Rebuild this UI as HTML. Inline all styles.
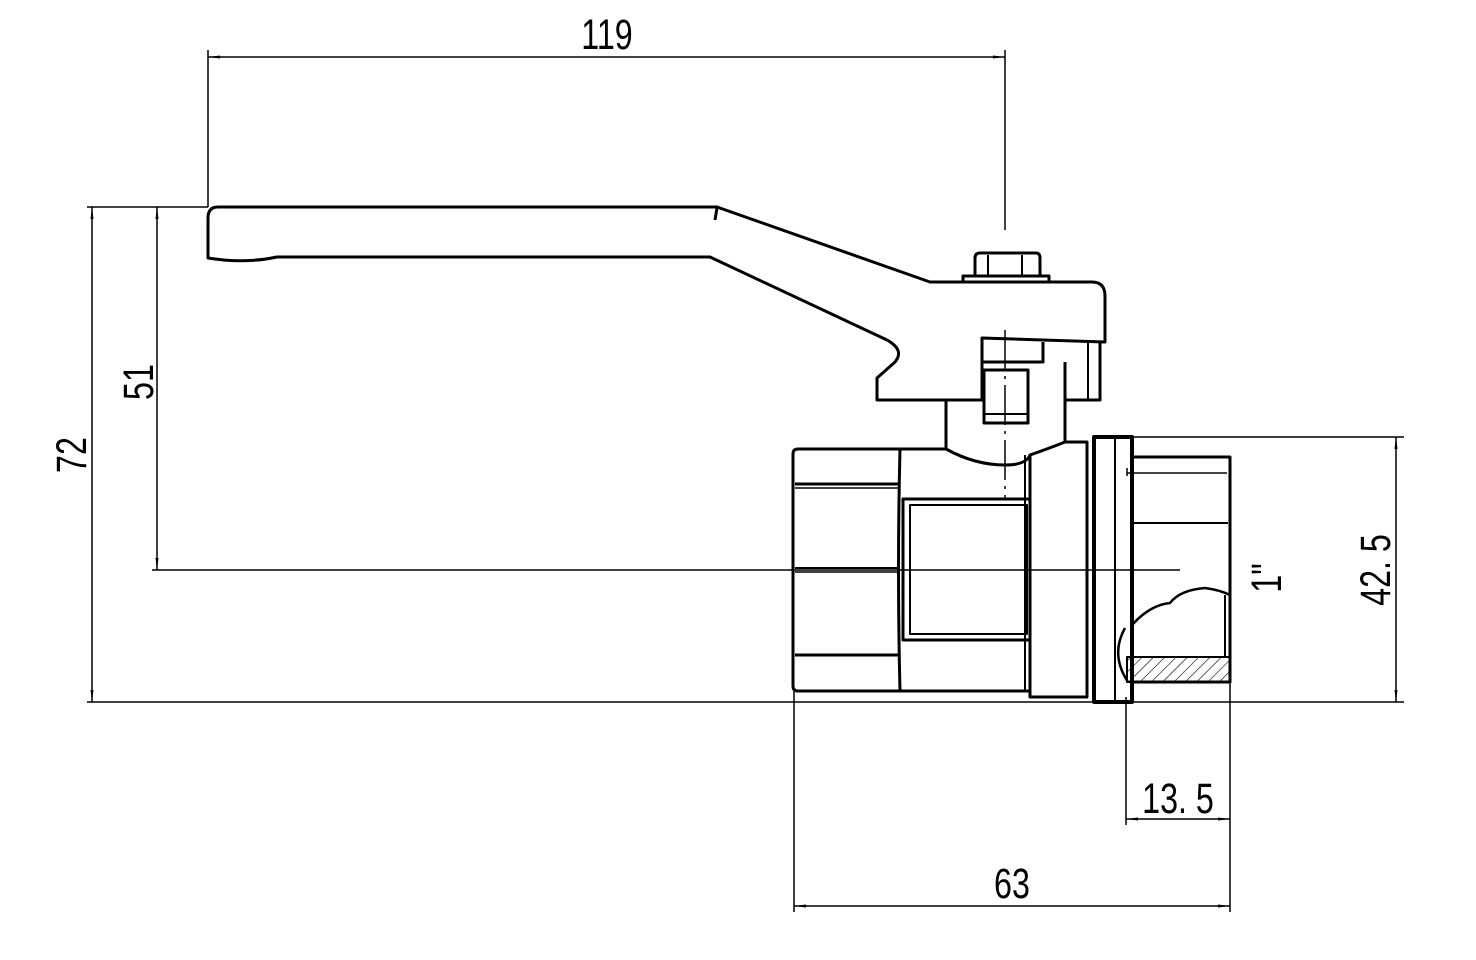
<!DOCTYPE html>
<html><head><style>html,body{margin:0;padding:0;background:#fff}svg{display:block}</style></head><body>
<svg width="1476" height="960" viewBox="0 0 1476 960" xmlns="http://www.w3.org/2000/svg">
<defs>
<pattern id="h" width="8" height="8" patternUnits="userSpaceOnUse" patternTransform="rotate(45)"><line x1="0" y1="0" x2="0" y2="8" stroke="#000" stroke-width="1.2"/></pattern>
<marker id="a" markerWidth="12" markerHeight="6" refX="12" refY="3" orient="auto-start-reverse" markerUnits="userSpaceOnUse"><path d="M0,1.5 L12,3 L0,4.5z" fill="#000"/></marker>
</defs>
<g fill="none" stroke="#000" stroke-width="1.5">
<line x1="208" y1="50" x2="208" y2="207"/>
<line x1="1005" y1="50" x2="1005" y2="230"/>
<line x1="208" y1="57" x2="1005" y2="57" marker-start="url(#a)" marker-end="url(#a)"/>
<line x1="87" y1="207" x2="208" y2="207"/>
<line x1="87" y1="702" x2="1404" y2="702"/>
<line x1="152" y1="570" x2="1180" y2="570"/>
<line x1="92" y1="207" x2="92" y2="702" marker-start="url(#a)" marker-end="url(#a)"/>
<line x1="157" y1="207" x2="157" y2="570" marker-start="url(#a)" marker-end="url(#a)"/>
<line x1="1132" y1="437" x2="1404" y2="437"/>
<line x1="1396" y1="437" x2="1396" y2="702" marker-start="url(#a)" marker-end="url(#a)"/>
<line x1="1126" y1="697" x2="1126" y2="825"/>
<line x1="1230" y1="628" x2="1230" y2="912"/>
<line x1="1126" y1="819" x2="1230" y2="819" marker-start="url(#a)" marker-end="url(#a)"/>
<line x1="794" y1="691" x2="794" y2="912"/>
<line x1="794" y1="906" x2="1230" y2="906" marker-start="url(#a)" marker-end="url(#a)"/>
<line x1="1005" y1="330" x2="1005" y2="498" stroke-dasharray="40 6 3 6"/>
</g>
<g fill="none" stroke="#000" stroke-width="3" stroke-linejoin="round">
<path d="M717,207 L218,207 Q208,207 208,218 L208,258 Q245,264 277,257 L710,257 L887,340 Q905,350 895,362 L877,378 L877,400 L982,400 L982,338 L1105,342 L1105,296 Q1105,282 1092,282 L930,282 Z"/>
<path d="M717,208 L715,220"/>
<path d="M963,282 L963,276 L1049,276 L1049,282"/>
<path d="M975,276 L975,258 Q975,253 980,253 L1036,253 Q1040,253 1040,258 L1040,276"/>
<line x1="988" y1="255" x2="988" y2="275" stroke-width="2"/>
<line x1="1022" y1="255" x2="1022" y2="275" stroke-width="2"/>
<path d="M1043,342 L1043,362 L982,362"/>
<path d="M1065,362 L1065,400 L1100,400 L1100,342"/>
<line x1="1088" y1="343" x2="1088" y2="400" stroke-width="2"/>
<rect x="984" y="370" width="44" height="53"/>
<line x1="984" y1="414" x2="1028" y2="414" stroke-width="2"/>
<path d="M946,400 L946,449"/>
<path d="M1065,400 L1065,442"/>
<path d="M946,449 Q975,465 1005,465 Q1026,465 1030,455 Q1050,448 1065,442 L1087,442 L1087,697 L1030,697 L1030,691 L798,691 Q793,691 793,686 L793,454 Q793,449 798,449 Z"/>
<line x1="1030" y1="455" x2="1030" y2="691"/>
<path d="M900,449 Q897,570 900,691"/>
<line x1="795" y1="484" x2="900" y2="484"/>
<line x1="795" y1="488" x2="900" y2="488" stroke-width="1.5"/>
<line x1="795" y1="568" x2="900" y2="568" stroke-width="2"/>
<line x1="795" y1="572" x2="900" y2="572" stroke-width="1.5"/>
<line x1="795" y1="655" x2="900" y2="655"/>
<rect x="903" y="499" width="127" height="141"/>
<rect x="910" y="505" width="117" height="129" stroke-width="2"/>
<line x1="1025" y1="455" x2="1025" y2="691" stroke-width="2"/>
<rect x="1094" y="437" width="38" height="265" stroke-width="4"/>
<line x1="1115" y1="437" x2="1115" y2="702" stroke-width="2"/>
<path d="M1132,457 L1230,457 L1230,682 L1132,682" />
<line x1="1127" y1="473" x2="1227" y2="473" stroke-width="1.5"/>
<line x1="1127" y1="468" x2="1127" y2="476" stroke-width="1.5"/>
<line x1="1132" y1="523" x2="1228" y2="523" stroke-width="2"/>
<path d="M1132,625 Q1150,605 1170,603 Q1180,590 1205,588 Q1220,590 1230,595" stroke-width="2.5"/>
<path d="M1125,628 Q1110,655 1128,682" stroke-width="2.5"/>
<rect x="1127" y="657" width="103" height="25" fill="url(#h)" stroke-width="2"/>
<line x1="1225" y1="595" x2="1225" y2="657" stroke-width="2"/>
</g>
<g font-family="Liberation Sans, sans-serif" font-size="43" fill="#000">
<text transform="translate(607,49) scale(0.75,1)" text-anchor="middle">119</text>
<text transform="translate(1012,898) scale(0.75,1)" text-anchor="middle">63</text>
<text transform="translate(1178,813) scale(0.75,1)" text-anchor="middle">13. 5</text>
<text transform="translate(86,455) rotate(-90) scale(0.75,1)" text-anchor="middle">72</text>
<text transform="translate(153,382) rotate(-90) scale(0.75,1)" text-anchor="middle">51</text>
<text transform="translate(1390,570) rotate(-90) scale(0.75,1)" text-anchor="middle">42. 5</text>
<text transform="translate(1281,578) rotate(-90) scale(0.75,1)" text-anchor="middle">1"</text>
</g>
</svg>
</body></html>
